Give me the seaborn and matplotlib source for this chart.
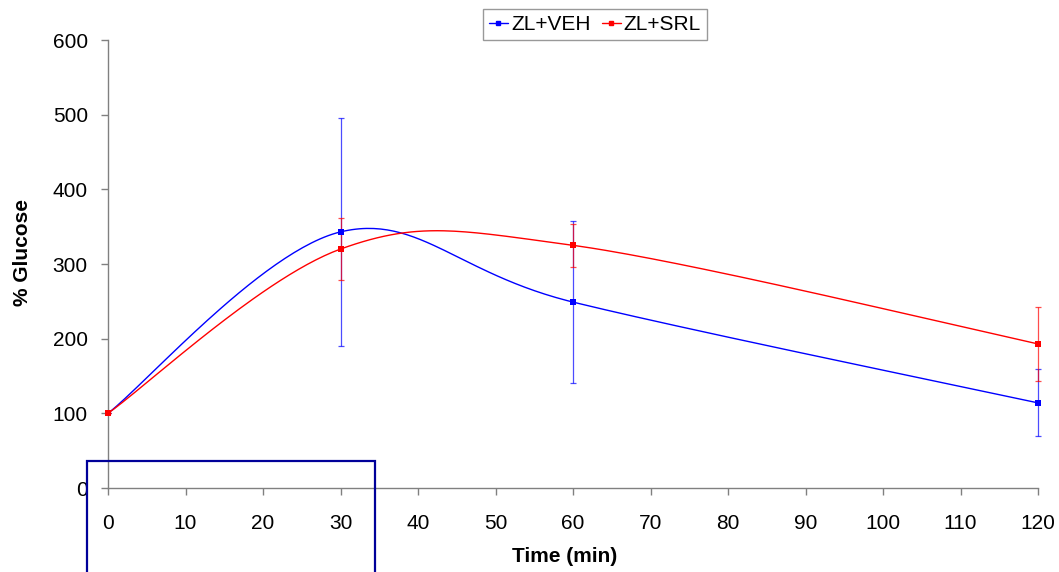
import numpy as np
import pandas as pd
import matplotlib
matplotlib.use("Agg")
import matplotlib.pyplot as plt
from matplotlib.patches import Rectangle
from matplotlib.lines import Line2D
import seaborn as sns

# ---- data ----
time_min = [0, 30, 60, 120]
veh_mean = [100, 343, 249, 114]
veh_err = [0, 153, 109, 45]
srl_mean = [100, 320, 325, 193]
srl_err = [0, 41, 29, 50]
series_names = ["ZL+VEH", "ZL+SRL"]
series_colors = ["#0000FF", "#FF0000"]
x_ticks = list(range(0, 121, 10))
y_ticks = list(range(0, 601, 100))


def excel_smooth(xs, ys, n=60):
    """Bezier smoothing similar to Excel's 'smoothed line'."""
    P = np.column_stack([xs, ys]).astype(float)
    out = []
    m = len(P)
    for i in range(m - 1):
        p0 = P[i]
        p3 = P[i + 1]
        prev = P[i - 1] if i > 0 else P[i]
        nxt = P[i + 2] if i + 2 < m else P[i + 1]
        c1 = p0 + (p3 - prev) / 6.0
        c2 = p3 - (nxt - p0) / 6.0
        t = np.linspace(0, 1, n)[:, None]
        seg = ((1 - t) ** 3) * p0 + 3 * ((1 - t) ** 2) * t * c1 + 3 * (1 - t) * t ** 2 * c2 + t ** 3 * p3
        if i > 0:
            seg = seg[1:]
        out.append(seg)
    out = np.vstack(out)
    return out[:, 0], out[:, 1]


sns.set_theme(style="ticks")
plt.rcParams["font.family"] = ["Liberation Sans", "DejaVu Sans"]
plt.rcParams["text.color"] = "black"
plt.rcParams["axes.labelcolor"] = "black"
plt.rcParams["xtick.labelcolor"] = "black"
plt.rcParams["ytick.labelcolor"] = "black"

fig = plt.figure(figsize=(10.59, 5.72), dpi=100)
ax = fig.add_axes([108 / 1059, 84 / 572, 930 / 1059, 448 / 572])

means = [veh_mean, srl_mean]
errs = [veh_err, srl_err]
for name, col, mu, er in zip(series_names, series_colors, means, errs):
    sx, sy = excel_smooth(time_min, mu)
    curve = pd.DataFrame({"x": sx, "y": sy})
    sns.lineplot(data=curve, x="x", y="y", sort=False, color=col, lw=1.0, ax=ax, zorder=3)
    eb = ax.errorbar(time_min, mu, yerr=er, fmt="none", ecolor=col, elinewidth=0.9,
                     capsize=2, capthick=0.9, alpha=0.7, zorder=2)
    for art in eb.get_children():
        art.set_clip_on(False)
    pts = pd.DataFrame({"x": time_min, "y": mu})
    sns.scatterplot(data=pts, x="x", y="y", marker="s", s=24, color=col,
                    edgecolor=col, linewidth=0, ax=ax, zorder=4, clip_on=False)

ax.set_xlim(0, 120)
ax.set_ylim(0, 600)
ax.set_xticks(x_ticks)
ax.set_yticks(y_ticks)
ax.tick_params(axis="both", labelsize=15, color="#808080", labelcolor="black",
               length=5, width=1, direction="out")
ax.tick_params(axis="x", pad=14)
ax.tick_params(axis="y", pad=9.5)
for s in ["top", "right"]:
    ax.spines[s].set_visible(False)
for s in ["left", "bottom"]:
    ax.spines[s].set_color("#808080")
    ax.spines[s].set_linewidth(1)
ax.set_xlabel("Time (min)", fontsize=15, fontweight="bold", color="black")
ax.set_ylabel("% Glucose", fontsize=15, fontweight="bold", color="black")
ax.xaxis.set_label_coords((564.5 - 108) / 930, (488 - 557) / 448)
ax.xaxis.label.set_verticalalignment("center")
ax.xaxis.label.set_horizontalalignment("center")
ax.yaxis.set_label_coords((22.5 - 108) / 930, (488 - 252.5) / 448)
ax.yaxis.label.set_verticalalignment("center")
ax.yaxis.label.set_horizontalalignment("center")
ax.grid(False)

handles = [Line2D([0], [0], color=c, lw=1, marker="s", markersize=3.5) for c in series_colors]
leg = fig.legend(handles, series_names, loc="center", bbox_to_anchor=(595 / 1059, 1 - 24.5 / 572),
                 ncol=2, frameon=True, fontsize=15, handlelength=0.9, handletextpad=0.15,
                 columnspacing=0.55, borderpad=0.28, fancybox=False, labelcolor="black")
leg.get_frame().set_edgecolor("#808080")
leg.get_frame().set_linewidth(1)

rect = Rectangle((87 / 1059, -0.05), 288 / 1059, (572 - 461) / 572 + 0.05,
                 transform=fig.transFigure, fill=False, edgecolor="#000099", lw=1.6, zorder=10)
fig.patches.append(rect)

fig.savefig("out.png", dpi=100)
